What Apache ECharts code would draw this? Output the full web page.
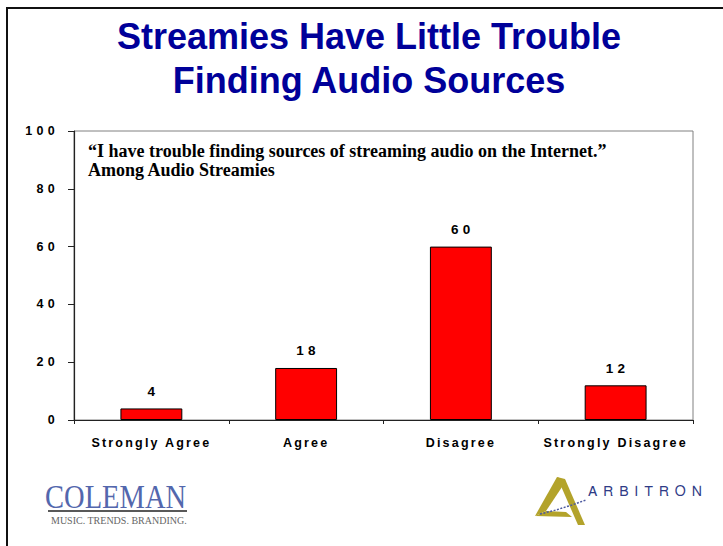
<!DOCTYPE html>
<html>
<head>
<meta charset="utf-8">
<script src="https://cdn.jsdelivr.net/npm/echarts@6/dist/echarts.min.js"></script>
<style>
  html, body { margin: 0; padding: 0; background: #fff; }
  #chart { width: 723px; height: 546px; }
  /* letter-spaced labels, as in the original slide */
  #chart text[style*="Arial"] { letter-spacing: 4.3px; }
  #chart text[style*="Helvetica"] { letter-spacing: 2.2px; }
  #chart text[style*="FreeSans"] { letter-spacing: 6px; }
</style>
</head>
<body>
<div id="chart"></div>
<script>
const titleLines = ['Streamies Have Little Trouble', 'Finding Audio Sources'];
const subtitleLines = ['\u201CI have trouble finding sources of streaming audio on the Internet.\u201D', 'Among Audio Streamies'];
const categories = ['Strongly Agree', 'Agree', 'Disagree', 'Strongly Disagree'];
const values = [4, 18, 60, 12];
const yMin = 0;
const yMax = 100;
const yStep = 20;

const chart = echarts.init(document.getElementById('chart'), null, { renderer: 'svg', width: 723, height: 546 });

const gold = '#b3a32b';

const option = {
  backgroundColor: '#ffffff',
  animation: false,
  grid: {
    left: 74, right: 30, top: 131, bottom: 126,
    show: true, borderColor: '#808080', borderWidth: 1, backgroundColor: 'transparent'
  },
  xAxis: {
    type: 'category',
    data: categories,
    axisLine: { show: true, lineStyle: { color: '#222', width: 1.2 } },
    axisTick: { show: true, length: 4, lineStyle: { color: '#222' } },
    axisLabel: {
      margin: 16, color: '#000', fontSize: 12.5, fontWeight: 'bold',
      fontFamily: 'Helvetica, "Liberation Sans", sans-serif', interval: 0
    },
    splitLine: { show: false }
  },
  yAxis: {
    type: 'value',
    min: yMin, max: yMax, interval: yStep,
    axisLine: { show: true, lineStyle: { color: '#222', width: 1.2 } },
    axisTick: { show: true, length: 6, lineStyle: { color: '#222' } },
    axisLabel: {
      margin: 15, color: '#000', fontSize: 12.5, fontWeight: 'bold',
      fontFamily: 'Arial, "Liberation Sans", sans-serif'
    },
    splitLine: { show: false }
  },
  series: [{
    type: 'bar',
    data: values,
    barWidth: '40%',
    itemStyle: { color: '#ff0000', borderColor: '#000', borderWidth: 1 },
    label: {
      show: true, position: 'top', distance: 10, offset: [2, 0], color: '#000',
      fontSize: 13.5, fontWeight: 'bold',
      fontFamily: 'Arial, "Liberation Sans", sans-serif'
    }
  }],
  graphic: [
    // slide border
    { type: 'rect', shape: { x: 7, y: 8, width: 760, height: 580 }, style: { fill: 'none', stroke: '#111', lineWidth: 2 }, silent: true },
    // title
    { type: 'text', x: 369, y: 36, style: { text: titleLines[0], fill: '#000099', font: 'bold 36px "Liberation Sans", sans-serif', textAlign: 'center', textVerticalAlign: 'middle' } },
    { type: 'text', x: 369, y: 80.5, style: { text: titleLines[1], fill: '#000099', font: 'bold 36px "Liberation Sans", sans-serif', textAlign: 'center', textVerticalAlign: 'middle' } },
    // subtitle inside plot
    { type: 'text', x: 88, y: 151, style: { text: subtitleLines[0], fill: '#000', font: 'bold 18px "Liberation Serif", serif', textAlign: 'left', textVerticalAlign: 'middle' } },
    { type: 'text', x: 88, y: 170, style: { text: subtitleLines[1], fill: '#000', font: 'bold 18px "Liberation Serif", serif', textAlign: 'left', textVerticalAlign: 'middle' } },
    // COLEMAN logo
    { type: 'text', x: 45, y: 497, scaleX: 0.865, style: { text: 'COLEMAN', fill: '#5367ad', font: '33px "Liberation Serif", serif', textAlign: 'left', textVerticalAlign: 'middle' } },
    { type: 'line', shape: { x1: 48, y1: 511, x2: 187, y2: 511 }, style: { stroke: '#222', lineWidth: 1.5 } },
    { type: 'text', x: 51, y: 520, style: { text: 'MUSIC. TRENDS. BRANDING.', fill: '#666', font: '10px "Liberation Serif", serif', textAlign: 'left', textVerticalAlign: 'middle' } },
    // ARBITRON logo
    { type: 'polygon', shape: { points: [[557, 477], [566, 481], [546, 511], [535, 516]] }, style: { fill: gold } },
    { type: 'polygon', shape: { points: [[557, 477], [565, 479], [585, 525], [578, 525]] }, style: { fill: gold } },
    { type: 'polygon', shape: { points: [[535, 516], [546, 511], [566, 512], [572, 517]] }, style: { fill: gold } },
    { type: 'polyline', shape: { points: [[540, 514], [556, 510], [572, 505], [586, 500]] }, style: { stroke: '#4c5aa0', lineWidth: 1.5, lineDash: [2, 1.5], fill: 'none' } },
    { type: 'text', x: 588, y: 492, style: { text: 'ARBITRON', fill: '#2f3b86', font: '14px FreeSans, "Liberation Sans", sans-serif', textAlign: 'left', textVerticalAlign: 'middle' } }
  ]
};

chart.setOption(option);
</script>
</body>
</html>
